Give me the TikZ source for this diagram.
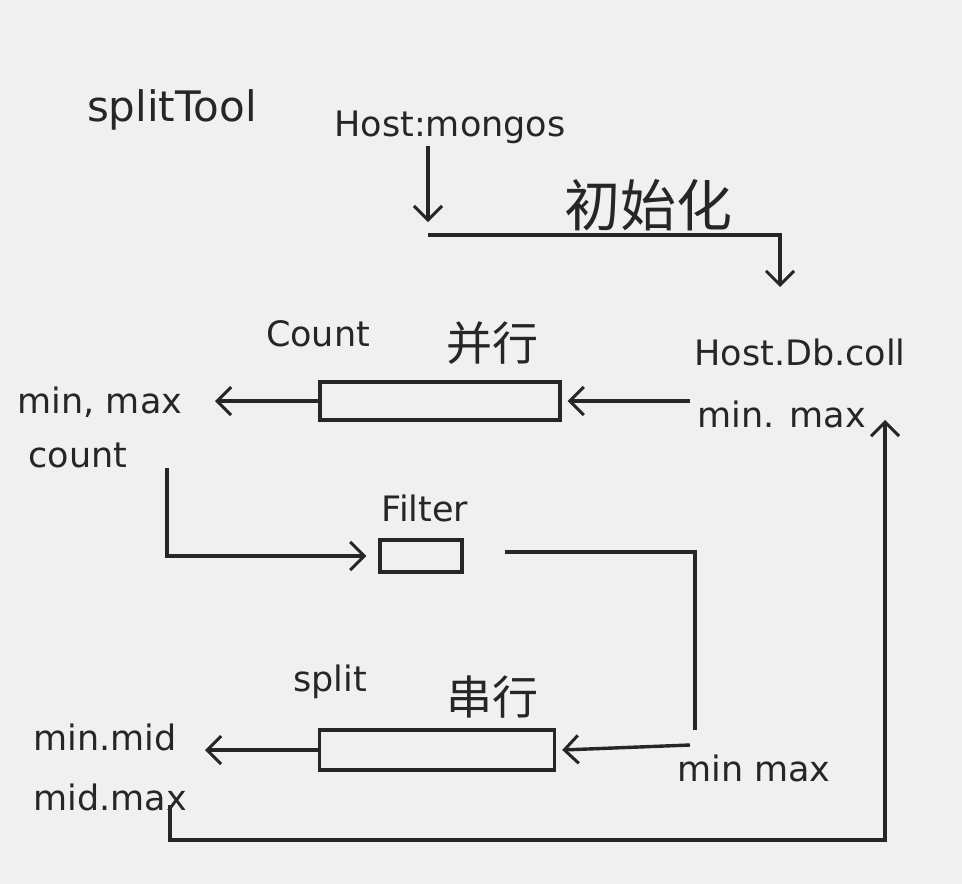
\documentclass[tikz,border=0pt]{standalone}
\usepackage{fontspec}
\setmainfont{DejaVu Sans}
\newfontfamily\cjk{Noto Sans CJK SC}
\usetikzlibrary{arrows.meta}
\begin{document}
\begin{tikzpicture}[x=1pt, y=-1pt,
ink/.style={line width=3.4pt, draw=black!85},
flow/.style={ink, -{Straight Barb[length=14pt,width=28pt,line width=3pt]}},
handtext/.style={font=\fontsize{35}{39}\selectfont, text=black!85, inner sep=2pt},
cjktext/.style={font=\cjk\fontsize{46}{50}\selectfont, text=black!85, inner sep=2pt},
stage/.style={ink, rectangle, inner sep=0pt}]
\fill[black!6] (0,0) rectangle (962,884);
\useasboundingbox (0,0) rectangle (962,884);
\node[handtext, font=\fontsize{42}{46}\selectfont] (title) at (172,110) {splitTool};
\node[handtext] (mongos) at (450,127) {Host:mongos};
\node[cjktext, font=\cjk\fontsize{56}{60}\selectfont] (init) at (648,205) {初始化};
\node[handtext] (hdc) at (800,352) {Host.Db.coll};
\node[handtext] (rmm) at (782,414) {min. max};
\node[stage, minimum width=240pt, minimum height=38pt] (countbox) at (440,401) {};
\node[handtext] (countlbl) at (318,334) {Count};
\node[cjktext] (countmode) at (492,343) {并行};
\node[handtext] (lmm) at (100,402) {min, max};
\node[handtext] (lcount) at (78,455) {count};
\node[stage, minimum width=82pt, minimum height=32pt] (filterbox) at (421,556) {};
\node[handtext] (filterlbl) at (425,508) {Filter};
\node[stage, minimum width=235pt, minimum height=40pt] (splitbox) at (437,750) {};
\node[handtext] (splitlbl) at (330,682) {split};
\node[cjktext] (splitmode) at (492,697) {串行};
\node[handtext] (bmm) at (754,768) {min max};
\node[handtext] (lmid) at (105,737) {min.mid};
\node[handtext] (lmidmax) at (110,797) {mid.max};
\coordinate (initdrop) at (428,222);
\coordinate (initbend) at (428,235);
\coordinate (initend) at (780,287);
\coordinate (countin) at (690,401);
\coordinate (countout) at (215,401);
\coordinate (cntstart) at (167,468);
\coordinate (fout) at (505,552);
\coordinate (fdown) at (695,730);
\coordinate (splitin) at (690,745);
\coordinate (splitout) at (205,750);
\coordinate (loopstart) at (170,805);
\coordinate (loopcorner) at (885,840);
\coordinate (loopend) at (885,420);
\draw[flow] (mongos.south -| initbend) -- (initdrop);
\draw[flow] (initbend) -| (initend);
\draw[flow] (countin) -- ([xshift=6pt]countbox.east);
\draw[flow] (countbox.west) -- (countout);
\draw[flow] (cntstart) |- ([xshift=-12pt]filterbox.west);
\draw[ink] (fout) -| (fdown);
\draw[flow] (splitin) -- ([xshift=6pt]splitbox.east);
\draw[flow] (splitbox.west) -- (splitout);
\draw[flow] (loopstart) |- (loopcorner) -- (loopend);
\end{tikzpicture}
\end{document}
